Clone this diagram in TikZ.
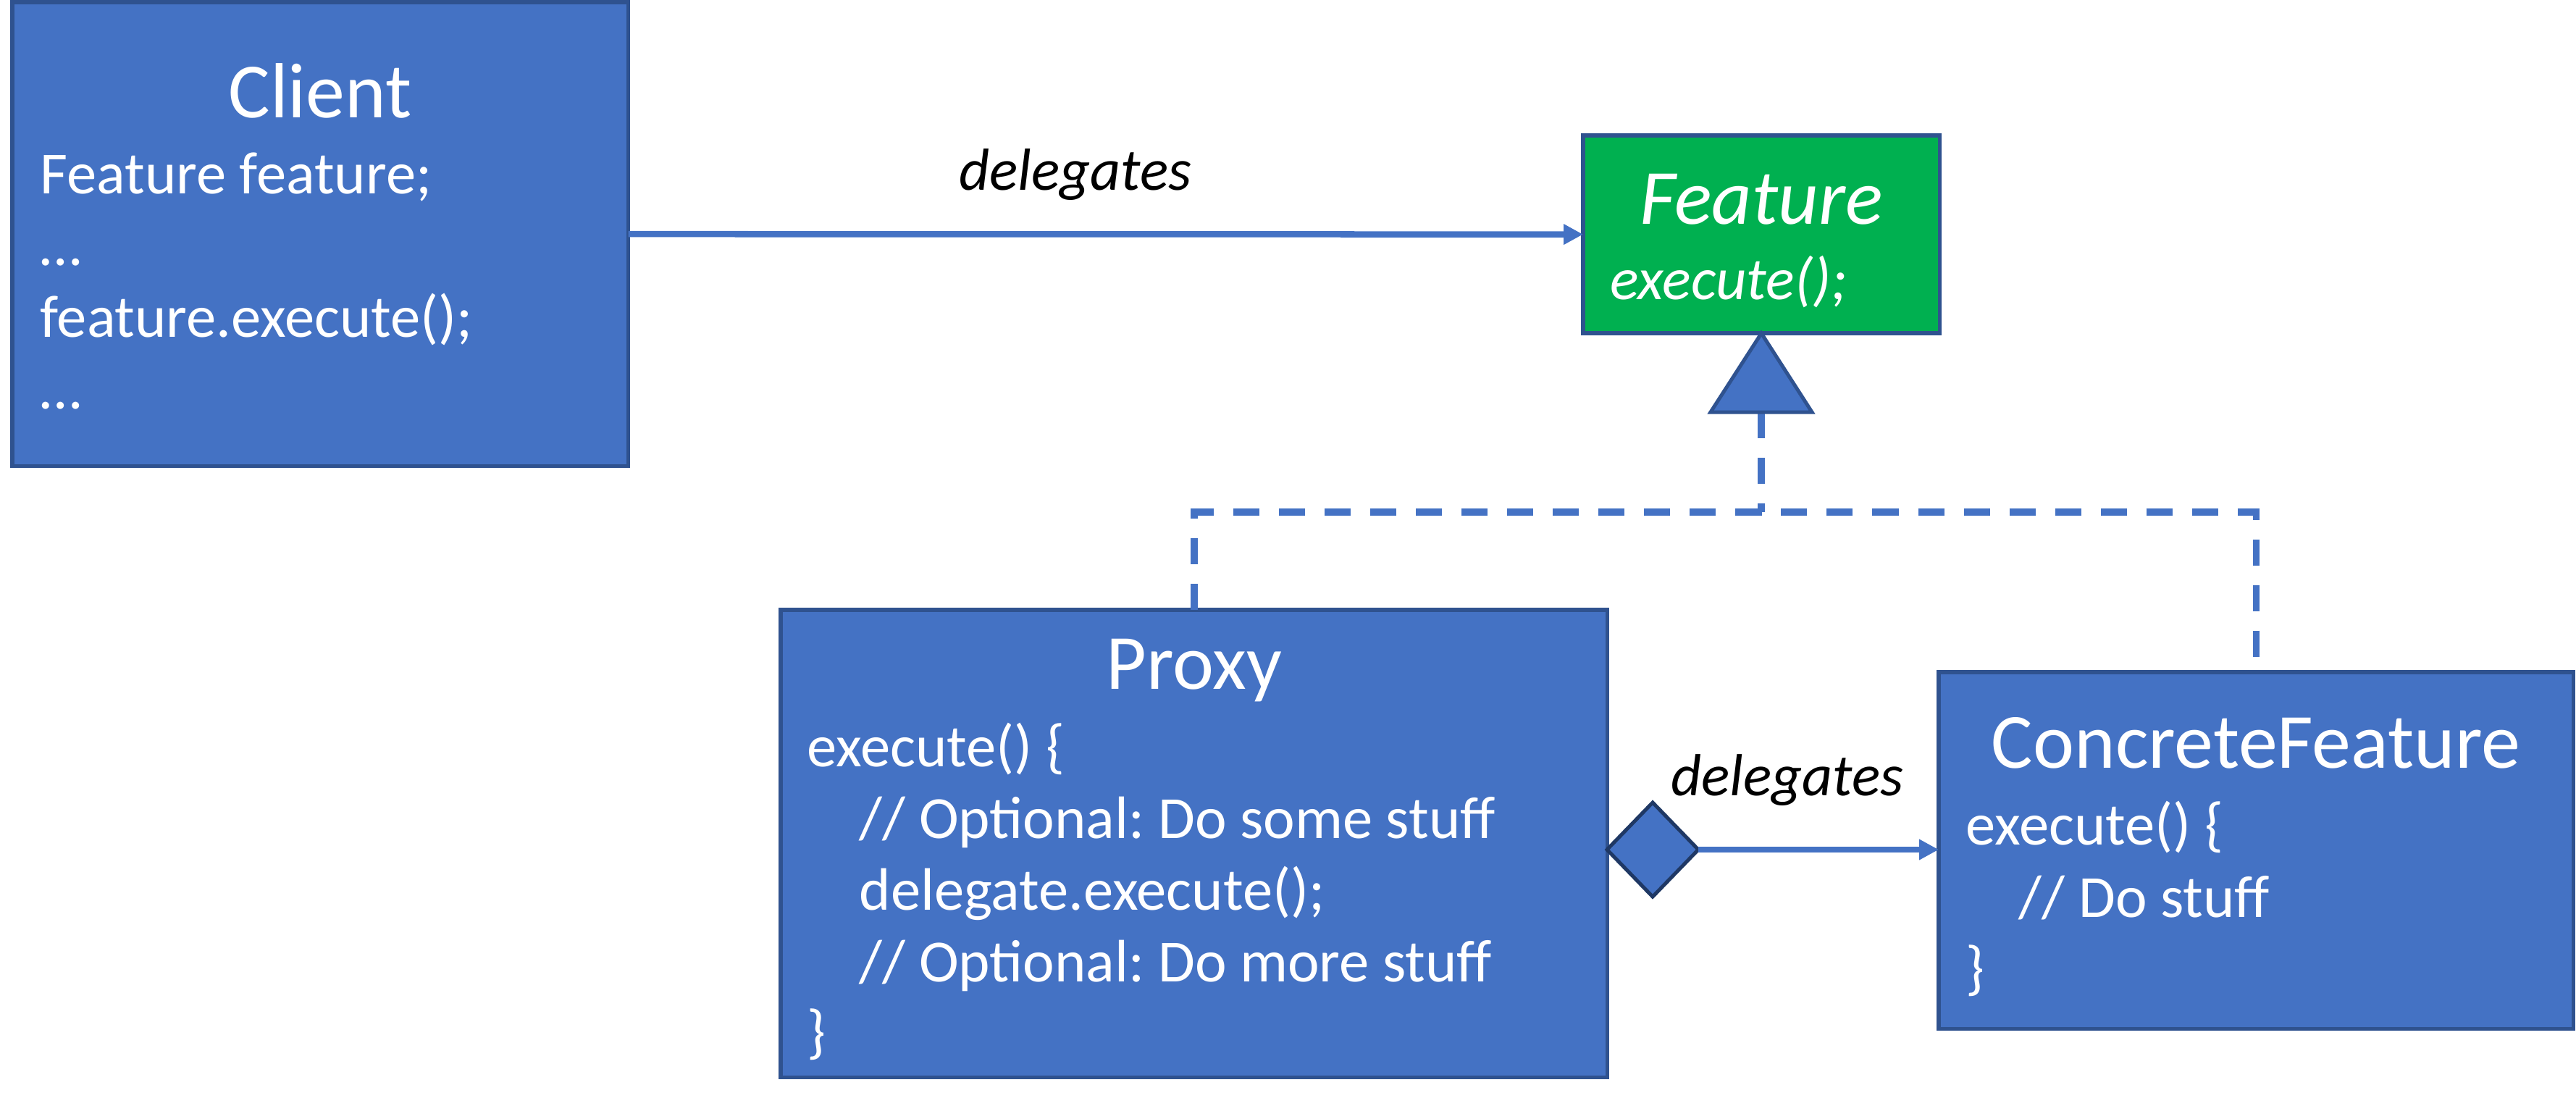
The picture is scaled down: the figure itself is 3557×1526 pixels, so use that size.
\documentclass[tikz,border=0pt]{standalone}
\usepackage{fontspec}
\setmainfont{Carlito}
\frenchspacing
\usetikzlibrary{arrows.meta,shapes.geometric}
\definecolor{boxblue}{HTML}{4472C4}
\definecolor{boxedge}{HTML}{2F528F}
\definecolor{featgreen}{HTML}{00B050}
\definecolor{dmdedge}{HTML}{1F3864}
\begin{document}
\begin{tikzpicture}[x=0.01cm,y=-0.01cm,
  cls/.style={draw=boxedge,line width=0.055cm,fill=boxblue,inner sep=0,outer sep=0,anchor=north west},
  ttl/.style={text=white,font=\fontsize{30.7}{36}\selectfont,inner sep=0,anchor=base},
  ttlit/.style={text=white,font=\fontsize{30.7}{36}\selectfont\itshape,inner sep=0,anchor=base},
  bodytxt/.style={text=white,font=\fontsize{23.5}{28}\selectfont,inner sep=0,anchor=base west},
  bodyit/.style={text=white,font=\fontsize{23.5}{28}\selectfont\itshape,inner sep=0,anchor=base west},
  lbl/.style={text=black,font=\fontsize{23.3}{28}\selectfont\itshape,inner sep=0,anchor=base},
  conn/.style={draw=boxblue,line width=0.085cm,-{Triangle[length=0.27cm,width=0.27cm]}},
  dashline/.style={draw=boxblue,line width=0.095cm,dash pattern=on 0.36cm off 0.27cm}]
\useasboundingbox (0,0) rectangle (3557,1526);
% boxes
\node[cls,minimum width=8.5cm,minimum height=6.4cm] (client) at (17,3) {};
\node[cls,fill=featgreen,minimum width=4.92cm,minimum height=2.73cm] (feature) at (2186,187) {};
\node[cls,minimum width=11.41cm,minimum height=6.45cm] (proxy) at (1078,842) {};
\node[cls,minimum width=8.76cm,minimum height=4.92cm] (cf) at (2677,928) {};
% client text
\node[ttl] (clientT) at (442,162) {Client};
\node[bodytxt] (c1) at (55,267) {Feature feature;};
\node[bodytxt] (c2) at (55,366) {…};
\node[bodytxt] (c3) at (55,465) {feature.execute();};
\node[bodytxt] (c4) at (55,564) {…};
% feature text
\node[ttlit] (featT) at (2432,309) {Feature};
\node[bodyit] (f1) at (2223,413) {execute();};
% proxy text
\node[ttl] (proxyT) at (1649,951) {Proxy};
\node[bodytxt] (p1) at (1114,1058) {execute() \{};
\node[bodytxt] (p2) at (1186,1157) {// Optional: Do some stuff};
\node[bodytxt] (p3) at (1186,1256) {delegate.execute();};
\node[bodytxt] (p4) at (1186,1355) {// Optional: Do more stuff};
\node[bodytxt] (p5) at (1114,1452) {\}};
% concrete feature text
\node[ttl] (cfT) at (3115,1060) {ConcreteFeature};
\node[bodytxt] (k1) at (2714,1166) {execute() \{};
\node[bodytxt] (k2) at (2787,1266) {// Do stuff};
\node[bodytxt] (k3) at (2714,1364) {\}};
% labels
\node[lbl] (lab1) at (1485,262) {delegates};
\node[lbl] (lab2) at (2468,1098) {delegates};
% client -> feature
\draw[conn] (client.east) -- (feature.west);
% inheritance
\coordinate (tip) at (feature.south);
\coordinate (tribase) at (2432,569);
\coordinate (junc) at (2432,707);
\draw[dashline] (tribase) -- (junc);
\draw[dashline] (proxy.north) |- (junc) -| (cf.north);
\draw[draw=boxedge,fill=boxblue,line width=0.05cm] (tip) -- (2362,569) -- (2502,569) -- cycle;
% aggregation
\node[diamond,draw=dmdedge,fill=boxblue,line width=0.05cm,minimum width=1.26cm,minimum height=1.30cm,inner sep=0,outer sep=0,anchor=west] (dmd) at (2219,1173) {};
\draw[conn] (dmd.east) -- (dmd.east -| cf.west);
\end{tikzpicture}
\end{document}
